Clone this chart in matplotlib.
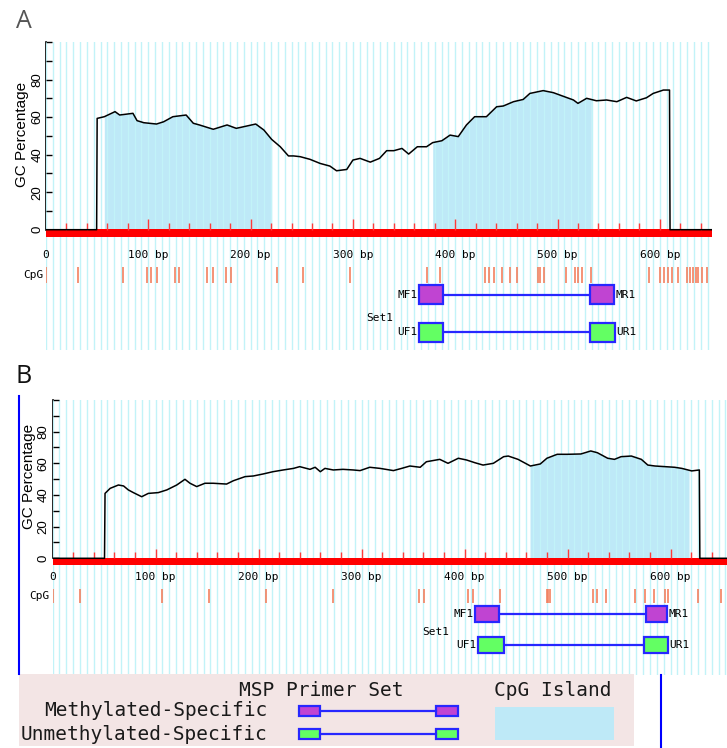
import numpy as np
import matplotlib
matplotlib.use("Agg")
import matplotlib.pyplot as plt
from matplotlib.patches import Rectangle
from matplotlib.ticker import MultipleLocator

# ---------------- data ----------------
gc_a_bp = [0, 49.5, 50, 57, 67.5, 72, 85, 89, 95.6, 108, 115, 124, 137, 144, 150,
           163.5, 177, 186, 196, 205, 213, 220.6, 229, 237, 242, 248.5, 258, 268,
           277.5, 284, 294, 300, 307, 317, 326, 333, 340, 348, 354.5, 363, 372,
           378, 387, 395, 403, 411, 419, 430.5, 440.5, 447, 457, 466.5, 473, 486,
           496, 502, 515.6, 520, 528.5, 538, 548, 558, 567.6, 577, 587, 593.5,
           603.5, 609.5, 610, 651]
gc_a_pct = [0, 0, 59.3, 60.2, 62.9, 61.1, 62, 58.1, 57, 56.3, 57.5, 60.2, 61.1, 56.7, 55.8,
            53.5, 55.8, 54, 55.2, 56.3, 53.1, 48.1, 44.2, 39.3, 39.3, 38.9, 37.5, 35.3,
            33.9, 31.4, 32.1, 37.1, 38, 36, 38, 42.1, 42.1, 43.3, 40.3, 44.2, 44.2,
            46.4, 47.4, 50.4, 49.6, 55.8, 60.2, 60.2, 65.5, 65.9, 68.2, 69.4, 72.6, 74.1,
            73, 71.8, 69.1, 67.3, 70, 68.7, 69.1, 68.2, 70.5, 68.6, 70.3, 72.6,
            74.4, 74.4, 0, 0]

gc_b_bp = [0, 50.5, 51, 56, 64, 69, 73.6, 78.5, 86.6, 93, 102.7, 111, 120.6, 128.6,
           133.5, 140, 148, 156, 169, 175.6, 187, 195, 204.7, 214, 224, 234, 240, 250,
           255, 260, 264.5, 272.6, 282, 292, 298.6, 308, 318, 331, 339, 347, 357, 363,
           376, 384, 394, 402, 410, 418, 428, 438, 442.5, 452, 464, 473.6, 480, 490,
           500, 513, 522.6, 529, 539, 545.6, 552, 562, 571.7, 578, 585, 594.6, 604,
           611, 620.6, 628, 628.5, 655]
gc_b_pct = [0, 0, 41, 44.2, 46.3, 45.7, 43.2, 41.5, 38.9, 41, 41.5, 43.2, 46.3, 49.9,
            47.4, 45.3, 47.4, 47.4, 46.9, 49, 51.6, 52, 53.3, 54.7, 55.8, 56.8, 57.9, 56.2,
            57.5, 54.7, 56.8, 55.8, 56.2, 55.8, 55.4, 57.5, 56.8, 55.4, 56.8, 58.3, 57.5, 61,
            62.5, 60, 63.2, 62.1, 60.4, 58.9, 60, 64.2, 64.6, 62.5, 58.3, 59.6, 63.2, 65.7,
            65.7, 65.9, 67.8, 66.7, 63.2, 62.5, 64.2, 64.6, 62.5, 58.9, 58.3, 57.9, 57.5,
            56.8, 55.2, 55.8, 0, 0]

island_a_start = [57, 378]
island_a_end = [220.6, 533]
island_b_start = [463.6]
island_b_end = [618]

cpg_a = [0, 31.6, 75.6, 98.5, 102.4, 108.2, 126, 130, 157, 163, 176, 180.6, 225.5,
         251.5, 297.2, 372, 385, 429, 433, 438, 445.5, 454, 460, 480.6, 483, 486.8,
         508, 517, 520, 524, 533, 589.5, 600, 604, 607.7, 611.6, 618, 627, 629.6,
         632, 635, 637.7, 641, 646]
cpg_b = [0.8, 26.7, 106.6, 151.7, 207.3, 272.5, 355.6, 361, 403, 408.5, 434.5, 479.8,
         481.4, 483, 524.3, 528.5, 537, 566, 575, 584, 594.7, 597.3, 626.5, 648.7]

primer_names = ["MF1", "MR1", "UF1", "UR1"]
primers_a_start = [364.6, 531.8, 364.6, 531.8]
primers_a_end = [388.4, 555.6, 388.4, 556.6]
primers_b_start = [410, 576, 413, 574.5]
primers_b_end = [433.5, 597, 438.4, 598]
primer_set = "Set1"

bp_ticks = [0, 100, 200, 300, 400, 500, 600]
bp_tick_labels = ["0", "100 bp", "200 bp", "300 bp", "400 bp", "500 bp", "600 bp"]
gc_ticks = [0, 10, 20, 30, 40, 50, 60, 70, 80, 90, 100]
gc_tick_labels = ["0", "", "20", "", "40", "", "60", "", "80", "", ""]

legend_title_primer = "MSP Primer Set"
legend_title_island = "CpG Island"
legend_rows = ["Methylated-Specific", "Unmethylated-Specific"]

# ---------------- style ----------------
W, H = 727, 748
ISLAND = "#bee9f7"
GRID = "#c2f3f8"
RED = "#ff0000"
TICKRED = "#ff3a3a"
CPGC = "#f3805f"
BLUE = "#2727ff"
MAG = "#c044d2"
GRN = "#63ff63"
MONO = "DejaVu Sans Mono"
SANS = "Liberation Sans"

fig = plt.figure(figsize=(W / 100, H / 100), dpi=100)

panel_a = dict(x0=46, right=712, top=42, bottom=350, zero=229.7, ppp=1.877, ppb=1.023,
               label_y=255, cpg_y=(266.7, 283.3), cpg_lab=275,
               m_box=(285, 304.3), m_line=295, set_y=318, u_box=(323.3, 341.7), u_line=332.3)
panel_b = dict(x0=52.5, right=727, top=400, bottom=675, zero=558.3, ppp=1.583, ppb=1.03,
               label_y=577, cpg_y=(589, 603.3), cpg_lab=596,
               m_box=(606, 621.7), m_line=614, set_y=631.7, u_box=(637.3, 653.3), u_line=645)


def make_panel(cfg, bp, pct, isl_s, isl_e, cpg, p_s, p_e):
    x0, right, top, bottom = cfg["x0"], cfg["right"], cfg["top"], cfg["bottom"]
    zero, ppp, ppb = cfg["zero"], cfg["ppp"], cfg["ppb"]
    ax = fig.add_axes([x0 / W, 1 - bottom / H, (right - x0) / W, (bottom - top) / H])
    xmax = (right - x0) / ppb
    ax.set_xlim(0, xmax)
    ax.set_ylim((zero - bottom) / ppp, (zero - top) / ppp)
    ax.set_facecolor("none")

    def yd(py):
        return (zero - py) / ppp

    # spines / ticks
    for s in ["top", "right", "bottom"]:
        ax.spines[s].set_visible(False)
    ax.spines["left"].set_bounds(0, 100)
    ax.spines["left"].set_linewidth(1.2)
    ax.set_yticks(gc_ticks)
    ax.set_yticklabels(gc_tick_labels, fontfamily=SANS, fontsize=9.5, rotation=90, va="center")
    ax.tick_params(axis="y", direction="in", length=4, width=1, pad=2)
    ax.set_xticks([])
    ax.xaxis.set_minor_locator(MultipleLocator(20 / 3))
    ax.tick_params(axis="x", which="both", length=0, labelbottom=False)
    ax.grid(which="minor", axis="x", color=GRID, lw=1.0)
    ax.set_axisbelow(False)

    bp_arr = np.asarray(bp, float)
    pct_arr = np.asarray(pct, float)
    # CpG islands
    for s, e in zip(isl_s, isl_e):
        xs = [s] + [b for b in bp_arr if s < b < e] + [e]
        ys = np.interp(xs, bp_arr, pct_arr)
        ax.fill_between(xs, 0, ys, color=ISLAND, lw=0, zorder=1)

    # red band and red ticks
    ax.axhspan(-4.1, 0.4, color=RED, lw=0, zorder=3)
    small = np.arange(20, xmax, 20)
    heights = np.where(small % 100 == 0, 5.7, 3.7)
    ax.vlines(small, 0, heights, color=TICKRED, lw=1, zorder=3)

    # GC curve
    ax.plot(bp_arr, pct_arr, color="black", lw=1.1, zorder=5)

    # bp labels
    ly = yd(cfg["label_y"])
    for t, lab in zip(bp_ticks, bp_tick_labels):
        ax.text(t, ly, lab, ha="center", va="center", fontfamily=MONO, fontsize=8, zorder=6)

    # CpG sites
    c0, c1 = cfg["cpg_y"]
    ax.vlines(cpg, yd(c1), yd(c0), color=CPGC, lw=1.2, zorder=3)
    ax.text(-3 / ppb, yd(cfg["cpg_lab"]), "CpG", ha="right", va="center",
            fontfamily=MONO, fontsize=8, clip_on=False)

    # primers
    rows = [(cfg["m_box"], cfg["m_line"], MAG), (cfg["u_box"], cfg["u_line"], GRN)]
    for r, (box, liney, fc) in enumerate(rows):
        i_f, i_r = 2 * r, 2 * r + 1
        ax.plot([p_e[i_f], p_s[i_r]], [yd(liney)] * 2, color=BLUE, lw=1.6, zorder=4)
        for i in (i_f, i_r):
            ax.add_patch(Rectangle((p_s[i], yd(box[1])), p_e[i] - p_s[i],
                                   yd(box[0]) - yd(box[1]), facecolor=fc,
                                   edgecolor=BLUE, lw=1.6, zorder=5))
        ax.text(p_s[i_f] - 1 / ppb, yd(liney), primer_names[i_f], ha="right", va="center",
                fontfamily=MONO, fontsize=8, zorder=6)
        ax.text(p_e[i_r] + 1 / ppb, yd(liney), primer_names[i_r], ha="left", va="center",
                fontfamily=MONO, fontsize=8, zorder=6)
    ax.text(p_s[0] - 26 / ppb, yd(cfg["set_y"]), primer_set, ha="right", va="center",
            fontfamily=MONO, fontsize=8, zorder=6)
    return ax


make_panel(panel_a, gc_a_bp, gc_a_pct, island_a_start, island_a_end, cpg_a,
           primers_a_start, primers_a_end)
make_panel(panel_b, gc_b_bp, gc_b_pct, island_b_start, island_b_end, cpg_b,
           primers_b_start, primers_b_end)

# ---------------- overlay (pixel coordinates) ----------------
ov = fig.add_axes([0, 0, 1, 1])
ov.set_xlim(0, W)
ov.set_ylim(H, 0)
ov.axis("off")
ov.set_facecolor("none")

ov.text(23.5, 21, "A", ha="center", va="center", fontfamily="Open Sans", fontsize=18, color="#555555")
ov.text(24, 376, "B", ha="center", va="center", fontfamily="Open Sans", fontsize=18, color="#111111")
ov.text(22, 134, "GC Percentage", rotation=90, ha="center", va="center", fontfamily=SANS, fontsize=11)
ov.text(28.5, 476, "GC Percentage", rotation=90, ha="center", va="center", fontfamily=SANS, fontsize=11)

# blue frame lines
ov.plot([18.5, 18.5], [396, 674], color="#0000ff", lw=1.5)
ov.plot([660.6, 660.6], [675, 748], color="#0000ff", lw=1.5)

# legend
ov.add_patch(Rectangle((18.5, 674), 615.5, 72, facecolor="#f3e5e5", edgecolor="none"))
ov.text(321, 690, legend_title_primer, ha="center", va="center", fontfamily=MONO, fontsize=14, color="#1a1a1a")
ov.text(553, 690, legend_title_island, ha="center", va="center", fontfamily=MONO, fontsize=14, color="#1a1a1a")
for (lab, yc, fc) in zip(legend_rows, [711, 734], [MAG, GRN]):
    ov.text(267, yc, lab, ha="right", va="center", fontfamily=MONO, fontsize=14, color="#1a1a1a")
    ov.plot([320, 436], [yc, yc], color=BLUE, lw=1.6)
    ov.add_patch(Rectangle((299, yc - 5), 21, 10, facecolor=fc, edgecolor=BLUE, lw=1.6))
    ov.add_patch(Rectangle((436, yc - 5), 22, 10, facecolor=fc, edgecolor=BLUE, lw=1.6))
ov.add_patch(Rectangle((495, 707), 119, 33, facecolor=ISLAND, edgecolor="none"))

fig.savefig("out.png", dpi=100)
